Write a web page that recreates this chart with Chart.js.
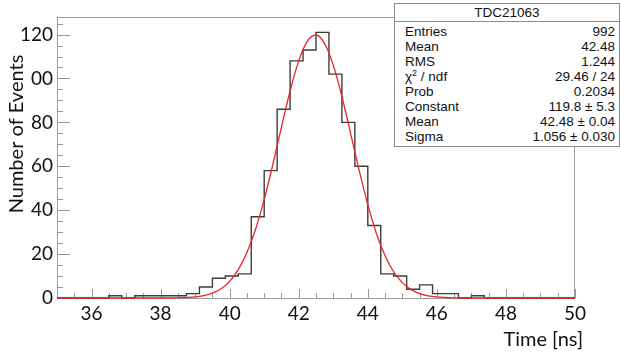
<!DOCTYPE html>
<html>
<head>
<meta charset="utf-8">
<script src="https://cdn.jsdelivr.net/npm/chart.js@4.4.1/dist/chart.umd.min.js"></script>
<style>
  html, body { margin: 0; padding: 0; background: #fff; }
  #wrap { position: relative; width: 621px; height: 355px; }
  #stats {
    position: absolute; left: 394px; top: 3px; width: 224px; height: 142px;
    background: #fff; border: 1px solid #8c8c8c;
    font-family: "Liberation Sans", Arial, sans-serif; font-size: 13.5px; color: #111;
  }
  #stats .head { height: 17px; line-height: 17px; text-align: center; border-bottom: 1px solid #8c8c8c; }
  #stats table { border-collapse: collapse; width: 100%; margin-top: 2px; }
  #stats td { height: 15px; line-height: 15px; padding: 0; }
  #stats td.n { padding-left: 10px; }
  #stats td.v { text-align: right; padding-right: 4px; }
  #stats sup { font-size: 9px; line-height: 0; vertical-align: 5px; }
</style>
</head>
<body>
<div id="wrap">
  <canvas id="plots" width="621" height="355"></canvas>
  <div id="stats"></div>
</div>
<script>
// histogram: 40 bins of 0.375 ns from 35 to 50
const binLow = 35
const binWidth = 0.375
const counts = [0, 0, 0, 0, 1, 0, 1, 1, 1, 1, 2, 5, 9, 10, 11, 37, 58, 86, 108, 113,
                121, 102, 80, 60, 33, 11, 10, 4, 6, 2, 2, 0, 1, 0, 0, 0, 0, 0, 0, 0]

// red gaussian fit curve
const fitTime = [35, 36, 37, 38, 38.5, 39, 39.25, 39.5, 39.75, 40, 40.25, 40.5, 40.75, 41, 41.25,
                 41.5, 41.75, 42, 42.25, 42.5, 42.75, 43, 43.25, 43.5, 43.75, 44, 44.25, 44.5,
                 44.75, 45, 45.25, 45.5, 45.75, 46, 46.5, 47, 48, 49, 50]
const fitValues = [0, 0, 0, 0, 0.1, 0.5, 1.1, 2.2, 4.2, 7.6, 12.9, 20.7, 31.3, 44.9, 60.8,
                   77.9, 94.3, 108.0, 117.0, 119.8, 115.9, 106.1, 91.8, 75.1, 58.1, 42.5, 29.4, 19.2,
                   11.9, 7.0, 3.8, 2.0, 1.0, 0.5, 0.1, 0, 0, 0, 0]

const xTicks = [36, 38, 40, 42, 44, 46, 48, 50]
const yTicks = [0, 20, 40, 60, 80, 100, 120]

const histName = 'TDC21063'
const statNames = ['Entries', 'Mean', 'RMS', 'χ<sup>2</sup> / ndf', 'Prob', 'Constant', 'Mean', 'Sigma']
const statValues = ['992', '42.48', '1.244', '29.46 / 24', '0.2034', '119.8 ± 5.3', '42.48 ± 0.04', '1.056 ± 0.030']

const xTitle = 'Time [ns]'
const yTitle = 'Number of Events'

// stats box
const stats = document.getElementById('stats')
let html = `<div class="head">${histName}</div><table>`
statNames.forEach((n, i) => {
  html += `<tr><td class="n">${n}</td><td class="v">${statValues[i]}</td></tr>`
})
stats.innerHTML = html + '</table>'

// step points on the left bin edges, plus the last right edge
const histPoints = counts.map((c, i) => ({ x: binLow + i * binWidth, y: c }))
histPoints.push({ x: binLow + counts.length * binWidth, y: counts[counts.length - 1] })

const labelFont = { family: 'Lato, "Open Sans", sans-serif', size: 19 }
const titleFont = '20px Lato, "Open Sans", sans-serif'

// frame + inner ticks like ROOT
const frameTicks = {
  id: 'frameTicks',
  beforeDatasetsDraw(chart) {
    const { ctx, chartArea: a, scales: { x, y } } = chart
    ctx.save()
    ctx.strokeStyle = '#9a9a9a'
    ctx.lineWidth = 1
    ctx.strokeRect(a.left + 0.5, a.top + 0.5, a.right - a.left - 1, a.bottom - a.top)
    ctx.beginPath()
    for (let v = x.min; v <= x.max + 0.001; v += 0.5) {
      const px = Math.round(x.getPixelForValue(v)) + 0.5
      const len = v % 2 === 0 ? 9 : 5
      ctx.moveTo(px, a.bottom)
      ctx.lineTo(px, a.bottom - len)
    }
    for (let v = 0; v <= y.max; v += 5) {
      const py = Math.round(y.getPixelForValue(v)) + 0.5
      const len = v % 20 === 0 ? 13 : 6
      ctx.moveTo(a.left, py)
      ctx.lineTo(a.left + len, py)
    }
    ctx.stroke()
    ctx.restore()
  },
  afterDraw(chart) {
    const { ctx, chartArea: a } = chart
    ctx.save()
    ctx.fillStyle = '#111'
    ctx.font = titleFont
    ctx.textAlign = 'right'
    ctx.textBaseline = 'middle'
    ctx.fillText(xTitle, a.right + 8, 340)
    ctx.translate(17, 134)
    ctx.rotate(-Math.PI / 2)
    ctx.textAlign = 'center'
    ctx.fillText(yTitle, 0, 0)
    ctx.restore()
  }
}

const chart = new Chart(document.getElementById('plots'), {
  type: 'line',
  data: {
    datasets: [{
      data: histPoints,
      stepped: 'before',
      borderColor: '#3c3c3c',
      borderWidth: 1.4,
      pointRadius: 0,
      fill: false,
      order: 1,
      clip: 3
    }, {
      data: fitTime.map((t, i) => ({ x: t, y: fitValues[i] })),
      borderColor: '#e8262a',
      borderWidth: 1.3,
      pointRadius: 0,
      cubicInterpolationMode: 'monotone',
      fill: false,
      order: 0,
      clip: 3
    }]
  },
  options: {
    responsive: false,
    animation: false,
    layout: { padding: { left: 0, right: 46, top: 17, bottom: 0 } },
    plugins: { legend: { display: false }, tooltip: { enabled: false } },
    scales: {
      x: {
        type: 'linear', min: 35, max: 50,
        afterBuildTicks: s => { s.ticks = xTicks.map(v => ({ value: v })) },
        afterFit: s => { s.height = 57 },
        grid: { display: false, drawTicks: false },
        border: { display: false },
        ticks: { font: labelFont, color: '#111', padding: 4, maxRotation: 0, autoSkip: false }
      },
      y: {
        type: 'linear', min: 0, max: 128,
        afterBuildTicks: s => { s.ticks = yTicks.map(v => ({ value: v })) },
        afterFit: s => { s.width = 57 },
        grid: { display: false, drawTicks: false },
        border: { display: false },
        ticks: {
          font: labelFont, color: '#111', padding: 4, autoSkip: false,
          // the 1 of 100 is hidden under the axis title in the picture
          callback: v => v === 100 ? '00' : String(v)
        }
      }
    }
  },
  plugins: [frameTicks]
})
</script>
</body>
</html>
